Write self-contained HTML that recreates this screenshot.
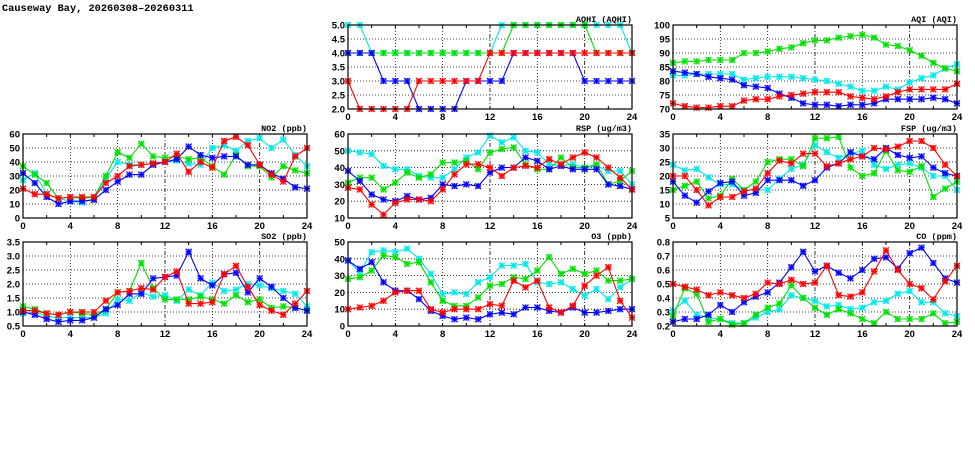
<!DOCTYPE html>
<html><head><meta charset="utf-8"><style>
html,body{margin:0;padding:0;background:#fff;}
svg text{font-family:"Liberation Sans",sans-serif;font-weight:bold;}
</style></head><body>
<svg id="chart" width="975" height="447" viewBox="0 0 975 447" xmlns="http://www.w3.org/2000/svg">
<text x="2" y="11" font-size="10.3" style="font-family:'Liberation Mono',monospace;font-weight:bold">Causeway Bay, 20260308–20260311</text>
</svg>
<script>
const hours = [0,1,2,3,4,5,6,7,8,9,10,11,12,13,14,15,16,17,18,19,20,21,22,23,24];
const xTicks = [0,4,8,12,16,20,24];
const seriesColors = ['#00e8e8','#00e000','#0000ff','#ff0000'];
const seriesNames = ['cyan','green','blue','red'];

const aqhiTicks = ['2.0','2.5','3.0','3.5','4.0','4.5','5.0'];
const aqhiCyan  = [5,5,4,4,4,4,4,4,4,4,4,4,4,5,5,5,5,5,5,5,5,5,5,5,4];
const aqhiGreen = [4,4,4,4,4,4,4,4,4,4,4,4,4,4,5,5,5,5,5,5,5,4,4,4,4];
const aqhiBlue  = [4,4,4,3,3,3,2,2,2,2,3,3,3,3,4,4,4,4,4,4,3,3,3,3,3];
const aqhiRed   = [3,2,2,2,2,2,3,3,3,3,3,3,4,4,4,4,4,4,4,4,4,4,4,4,4];

const aqiTicks = ['70','75','80','85','90','95','100'];
const aqiCyan  = [82,82,82.5,82.5,82.5,82.5,80.5,81,81.5,81.5,81.5,81,80.5,80,79,78,76.5,76.5,78,77,79.5,81,82,84.5,86];
const aqiGreen = [86.5,87,87,87.5,87.5,87.5,90,90,90.5,91.5,92,93.5,94.5,94.5,95.5,96,96.5,95.5,93,92.5,91,89,86.5,84.5,83.5];
const aqiBlue  = [83.5,83,82.5,81.5,81,80.5,78.5,78,77.5,75.5,74,72,71.5,71.5,71,71.5,71.5,72,73.5,73.5,73.5,73.5,74,73.5,72];
const aqiRed   = [72,71,70.5,70.5,71,71,73,73.5,73.5,74.5,75,75.5,76,76,76,74.5,74,73.5,74.5,76,77,77,77,77,79];

const no2Ticks = ['0','10','20','30','40','50','60'];
const no2Cyan  = [27,32,17,14,12,11,14,28,40,38,38,39,40,41,39,38,50,52,48,55,57,50,56,45,37];
const no2Green = [37,31,25,14,15,14,15,30,47,43,53,44,43,44,42,43,37,31,45,37,37,29,37,34,32];
const no2Blue  = [32,25,15,10,12,12,13,20,26,31,31,38,40,42,51,45,43,44,44,38,38,32,28,22,21];
const no2Red   = [21,17,17,14,15,15,15,25,30,37,38,39,40,46,33,40,36,55,58,52,38,31,26,44,50];

const rspTicks = ['10','20','30','40','50','60'];
const rspCyan  = [50,49,48,41,39,39,35,34,34,39,46,49,59,55,58,50,49,42,41,42,40,41,38,38,30];
const rspGreen = [31,34,34,27,31,37,34,36,43,43,44,39,49,51,52,42,39,39,46,40,40,42,30,32,38];
const rspBlue  = [38,32,24,21,20,23,21,22,30,29,30,29,37,40,40,46,44,39,41,39,39,39,30,29,27];
const rspRed   = [28,27,18,12,19,21,21,20,27,36,42,42,40,35,40,41,40,45,42,46,49,46,40,34,27];

const fspTicks = ['5','10','15','20','25','30','35'];
const fspCyan  = [24,22,22.5,19.5,17,17,15,15,15,19,22.5,24,31,28.5,26.5,28,29,24,22.5,24,24.5,23,20,20,15];
const fspGreen = [15,16.5,18,12,13,19,15,18,25,26,26,23.5,33.5,33.5,34,23,20,21,29,22,21.5,23.5,12.5,15.5,18];
const fspBlue  = [18,13,10.5,14.5,17.5,18,13,14,18.5,18.5,18.5,16.5,18.5,23,24.5,28.5,27,26,30,27.5,26.5,27,23,21,20];
const fspRed   = [20,20,15,9.5,12.5,12.5,14.5,15.5,21,25.5,24.5,28,28,23.5,24.5,26,27,30,29.5,30.5,32.5,32.5,30,24,20];

const so2Ticks = ['0.5','1.0','1.5','2.0','2.5','3.0','3.5'];
const so2Cyan  = [0.95,1.0,0.85,0.8,0.8,0.8,0.8,0.95,1.45,1.4,1.7,1.55,1.6,1.4,1.8,1.6,2.05,1.75,1.8,2.0,1.95,1.85,1.75,1.65,1.2];
const so2Green = [1.2,1.1,0.95,0.9,1.0,0.95,0.9,1.1,1.7,1.75,2.75,1.85,1.45,1.45,1.45,1.55,1.45,1.3,1.6,1.35,1.45,1.15,1.2,1.15,1.05];
const so2Blue  = [1.0,0.9,0.75,0.65,0.7,0.7,0.8,1.1,1.25,1.65,1.65,2.2,2.25,2.3,3.15,2.2,1.95,2.35,2.4,1.7,2.2,1.9,1.5,1.15,1.05];
const so2Red   = [1.05,1.05,0.95,0.9,1.0,1.0,1.0,1.4,1.7,1.75,1.85,1.8,2.25,2.45,1.3,1.3,1.35,2.35,2.65,1.9,1.25,1.05,0.9,1.3,1.75];

const o3Ticks = ['0','10','20','30','40','50'];
const o3Cyan  = [39,32,44,45,44,46,40,31,19,20,19,26,29,36,36,37,26,25,26,22,18,22,16,23,28];
const o3Green = [28,29,33,42,41,37,38,26,15,12,12,17,24,25,29,28,33,41,31,34,31,33,27,27,28];
const o3Blue  = [39,34,38,26,21,21,16,9,6,4,5,4,7,8,7,11,11,9,8,11,8,8,9,10,10];
const o3Red   = [10,11,12,15,20,21,21,10,8,10,10,10,13,12,27,23,27,11,8,12,24,30,35,15,5];

const coTicks = ['0.2','0.3','0.4','0.5','0.6','0.7','0.8'];
const coCyan  = [0.31,0.38,0.28,0.26,0.25,0.22,0.22,0.26,0.3,0.32,0.42,0.4,0.38,0.34,0.35,0.32,0.33,0.37,0.38,0.43,0.45,0.37,0.37,0.29,0.27];
const coGreen = [0.27,0.47,0.43,0.23,0.25,0.21,0.22,0.28,0.33,0.36,0.49,0.4,0.33,0.28,0.32,0.29,0.25,0.22,0.3,0.25,0.25,0.25,0.29,0.22,0.23];
const coBlue  = [0.23,0.25,0.25,0.28,0.35,0.3,0.37,0.41,0.44,0.51,0.62,0.73,0.59,0.63,0.58,0.54,0.6,0.68,0.69,0.61,0.72,0.76,0.65,0.54,0.51];
const coRed   = [0.5,0.48,0.46,0.42,0.44,0.42,0.4,0.43,0.51,0.5,0.53,0.5,0.51,0.63,0.42,0.41,0.44,0.59,0.74,0.6,0.5,0.47,0.39,0.52,0.63];

const NS='http://www.w3.org/2000/svg';
const svg=document.getElementById('chart');
function mk(tag,attrs,parent){const e=document.createElementNS(NS,tag);for(const k in attrs)e.setAttribute(k,attrs[k]);(parent||svg).appendChild(e);return e;}

const panels=[
 {id:'aqhi',title:'AQHI (AQHI)',x:348,y:25,ticks:aqhiTicks,s:[aqhiCyan,aqhiGreen,aqhiBlue,aqhiRed]},
 {id:'aqi',title:'AQI (AQI)',x:673,y:25,ticks:aqiTicks,s:[aqiCyan,aqiGreen,aqiBlue,aqiRed]},
 {id:'no2',title:'NO2 (ppb)',x:23,y:134,ticks:no2Ticks,s:[no2Cyan,no2Green,no2Blue,no2Red]},
 {id:'rsp',title:'RSP (ug/m3)',x:348,y:134,ticks:rspTicks,s:[rspCyan,rspGreen,rspBlue,rspRed]},
 {id:'fsp',title:'FSP (ug/m3)',x:673,y:134,ticks:fspTicks,s:[fspCyan,fspGreen,fspBlue,fspRed]},
 {id:'so2',title:'SO2 (ppb)',x:23,y:242,ticks:so2Ticks,s:[so2Cyan,so2Green,so2Blue,so2Red]},
 {id:'o3',title:'O3 (ppb)',x:348,y:242,ticks:o3Ticks,s:[o3Cyan,o3Green,o3Blue,o3Red]},
 {id:'co',title:'CO (ppm)',x:673,y:242,ticks:coTicks,s:[coCyan,coGreen,coBlue,coRed]}
];
const W=284,H=84;
panels.forEach(p=>{
 const g=mk('g',{});
 
 
 const ymin=parseFloat(p.ticks[0]),ymax=parseFloat(p.ticks[p.ticks.length-1]);
 const sx=v=>p.x+v/24*W;
 const sy=v=>p.y+H-(v-ymin)/(ymax-ymin)*H;
 p.ticks.forEach((t,i)=>{
  const yy=sy(parseFloat(t));
  if(i>0&&i<p.ticks.length-1){const l=mk('line',{x1:p.x,x2:p.x+W,y1:yy,y2:yy,stroke:'#000','stroke-width':0.8,'stroke-dasharray':'1,2'},g);}
  const tl=mk('text',{x:p.x-3,y:yy+3.5,'font-size':9.5,'text-anchor':'end'},g);
  tl.textContent=t;
 });
 for(let h=2;h<24;h+=2){
  const xx=sx(h);
  if(h%4===0){const l=mk('line',{x1:xx,x2:xx,y1:p.y,y2:p.y+H,stroke:'#000','stroke-width':0.8,'stroke-dasharray':(h===12||h===20)?'4,2,1,2':'1,2'},g);}
  mk('line',{x1:xx,x2:xx,y1:p.y+H,y2:p.y+H-3,stroke:'#000','stroke-width':1},g);
  mk('line',{x1:xx,x2:xx,y1:p.y,y2:p.y+3,stroke:'#000','stroke-width':1},g);
 }
 xTicks.forEach(h=>{
  const tl=mk('text',{x:sx(h),y:p.y+H+11,'font-size':9.5,'text-anchor':'middle'},g);
  tl.textContent=h;
 });
 const tt=mk('text',{x:p.x+W,y:p.y-3,'font-size':8.5,'text-anchor':'end',style:"font-family:'Liberation Mono',monospace;font-weight:bold"},g);
 tt.textContent=p.title;
 p.s.forEach((arr,si)=>{
  const c=seriesColors[si];
  const sg=mk('g',{},g);
  
  
  const pts=arr.map((v,i)=>sx(hours[i]).toFixed(1)+','+sy(v).toFixed(1)).join(' ');
  const pl=mk('polyline',{points:pts,fill:'none',stroke:c,'stroke-width':1.1},sg);
  
  arr.forEach((v,i)=>{
   const cx=sx(hours[i]),cy=sy(v);
   const m=mk('g',{},sg);
   
   
   mk('rect',{x:cx-3,y:cy-3,width:6,height:6,fill:c,'fill-opacity':0.35,stroke:'none'},m);
   mk('path',{d:`M${cx-3},${cy-3}L${cx+3},${cy+3}M${cx-3},${cy+3}L${cx+3},${cy-3}M${cx-3},${cy}L${cx+3},${cy}M${cx},${cy-3}L${cx},${cy+3}`,stroke:c,'stroke-width':1.1,fill:'none'},m);
  });
 });
 const fr=mk('rect',{x:p.x,y:p.y,width:W,height:H,fill:'none',stroke:'#000','stroke-width':1.2},g);
 
});
</script>
</body></html>
